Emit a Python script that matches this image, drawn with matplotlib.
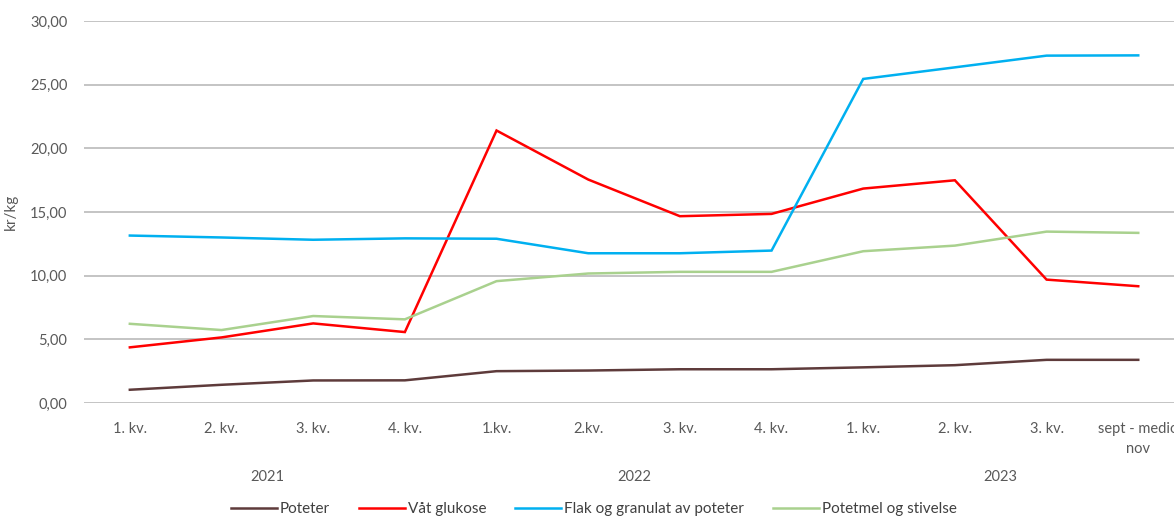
import numpy as np
import matplotlib.pyplot as plt
from matplotlib.transforms import blended_transform_factory

plt.rcParams['font.family'] = ['Lato', 'DejaVu Sans']

quarters = ["1. kv.", "2. kv.", "3. kv.", "4. kv.",
            "1.kv.", "2.kv.", "3. kv.", "4. kv.",
            "1. kv.", "2. kv.", "3. kv.", "sept - medio\nnov"]
years = ["2021", "2022", "2023"]
year_centres = [1.5, 5.5, 9.5]

poteter = [1.04, 1.43, 1.77, 1.78, 2.50, 2.55, 2.65, 2.65, 2.80, 2.97, 3.39, 3.39]
vaat_glukose = [4.37, 5.15, 6.25, 5.57, 21.40, 17.55, 14.67, 14.85, 16.84, 17.49, 9.69, 9.17]
flak_granulat = [13.15, 13.00, 12.82, 12.93, 12.90, 11.76, 11.76, 11.97, 25.45, 26.36, 27.28, 27.30]
potetmel = [6.22, 5.73, 6.83, 6.57, 9.57, 10.17, 10.30, 10.30, 11.92, 12.36, 13.46, 13.36]

series = [
    ("Poteter", poteter, "#5E3B3B"),
    ("Våt glukose", vaat_glukose, "#FF0000"),
    ("Flak og granulat av poteter", flak_granulat, "#00B0F0"),
    ("Potetmel og stivelse", potetmel, "#A9D18E"),
]

fig = plt.figure(figsize=(11.74, 5.18), dpi=100)
ax = fig.add_axes([84 / 1174, 1 - 403 / 518, 1 - 84 / 1174, (403 - 21) / 518])

x = np.arange(len(quarters))
for name, vals, col in series:
    ax.plot(x, vals, color=col, lw=1.8, label=name, solid_joinstyle='miter', zorder=3)

ax.set_ylim(0, 30)
ax.set_xlim(-0.5, 11.39)
ax.set_yticks(np.arange(0, 31, 5))
ax.set_yticklabels([f"{v:.2f}".replace(".", ",") for v in np.arange(0, 31, 5)])
ax.yaxis.grid(True, color="#BFBFBF", lw=1.3)
ax.set_axisbelow(True)
for s in ax.spines.values():
    s.set_visible(False)
ax.tick_params(axis='both', length=0, colors="#595959", labelsize=10.5)
ax.tick_params(axis='y', pad=12)
ax.tick_params(axis='x', pad=14)
ax.set_xticks(x)
ax.set_xticklabels(quarters, linespacing=1.5)
ax.set_ylabel("kr/kg", color="#595959", fontsize=11)
ax.yaxis.set_label_coords(-(84 - 18) / 1090, 0.5)

trans = blended_transform_factory(ax.transData, fig.transFigure)
for yr, c in zip(years, year_centres):
    ax.text(c, 1 - 477 / 518, yr, transform=trans, ha='center', va='center',
            color="#595959", fontsize=10.5)

fig.legend(loc='center', bbox_to_anchor=(0.506, 1 - 509 / 518), ncol=4, frameon=False,
           fontsize=11, handlelength=3.0, columnspacing=1.9, handletextpad=0.2,
           labelcolor="#404040")

fig.savefig("out.png", dpi=100)
